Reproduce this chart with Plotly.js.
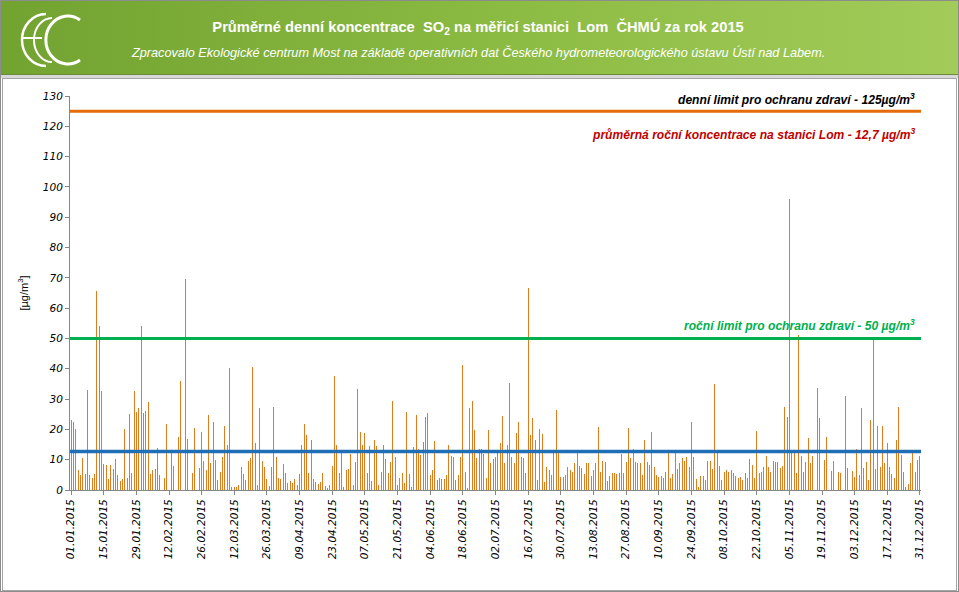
<!DOCTYPE html>
<html><head><meta charset="utf-8">
<script src="https://cdn.plot.ly/plotly-3.0.1.min.js"></script>
<style>
body{margin:0;background:#fff;}
#wrap{position:relative;width:959px;height:592px;overflow:hidden;background:#fff;}
#hdr{position:absolute;left:0;top:0;width:959px;height:74px;background:linear-gradient(to right,#72a230,#8dbc44 55%,#a2cb59);border-bottom:1px solid #6d8a3a;}
#band{position:absolute;left:0;top:75px;width:959px;height:3px;background:#d8d8d8;}
#panel{position:absolute;left:2px;top:78px;width:953px;height:511px;border:1px solid #a6a6a6;background:#fff;}
#frame{position:absolute;left:0;top:0;width:957px;height:590px;border:1px solid #8c8c8c;pointer-events:none;}
#logo{position:absolute;left:12px;top:8px;}
#chart{position:absolute;left:0;top:0;width:959px;height:592px;}
</style></head>
<body>
<div id="wrap">
  <div id="hdr"></div>
  <svg id="logo" width="76" height="64" viewBox="0 0 76 64">
    <path d="M34 6 A24 26 0 1 0 34 58" fill="none" stroke="#fff" stroke-width="2.5"/>
    <path d="M40 10 A18 22 0 1 0 40 54" fill="none" stroke="#fff" stroke-width="2"/>
    <path d="M10 30 L30 30" fill="none" stroke="#fff" stroke-width="2"/>
    <path d="M68 12 A22 24 0 1 0 68 52" fill="none" stroke="#fff" stroke-width="3"/>
  </svg>
  <div id="band"></div>
  <div id="panel"></div>
  <div id="chart"></div>
  <div id="frame"></div>
</div>
<script>
// ---- data ----
const startDate = '2015-01-01';
const so2Values = [
23,22.5,20,6.5,5,10.5,5.3,33,5,4,5.3,65.5,54,32.6,8.5,8.3,3.7,8.3,7,10.2,
5,3,3.5,20,4,25,5.5,32.7,25.8,27,54,25.3,26.2,29,5.3,6.6,7,14,5,9.7,
4,21.7,16.5,13.2,7.9,18.4,17.6,36,16.3,69.5,16.8,22.2,5.7,20.4,12.3,7.2,19,9.7,6.6,24.9,
9,22.3,10,3.3,6,11,21,15,40.4,1.1,1.1,0.9,1.6,7.7,5.3,3.3,9.7,10.5,40.7,15.6,
1.6,27,9.7,7.7,3.5,1.3,7.7,27.5,11,3.9,3.5,8.5,5.7,2.2,3,2.4,3.5,1.6,5.3,15,
21.7,18,5.5,16.5,3.5,2.8,2,2.8,5.7,1.3,0.5,1.6,7.9,37.6,14.9,5.5,12.1,0.9,6.6,6.9,
11.9,1.6,9.4,33.2,19,14.9,18.7,5.7,14.5,3.1,16.5,14.5,1.6,6,14.9,10.1,5.7,9.4,29.5,11,
1.6,4,5.7,2.2,25.6,5.3,1,14.3,24.8,13.4,11.6,16,24.2,25.3,5,6.6,16.3,3.3,3.9,3.5,
3.5,5,14.9,11.2,10.8,3.3,5,10.8,41.3,6,0.5,27,29.5,19.8,10.5,13.4,13.4,11.9,3.9,19.8,
8.8,10.1,11,12.1,15.6,24.4,8.8,14.9,35.4,10.8,8.8,18.9,22.6,10.8,10.5,5.5,66.6,18,23.7,16.5,
3.3,20,18.4,2.8,7.5,6.6,5,12.1,26.4,12.1,4.2,4.4,5,7.7,6.6,6,8.8,12.1,7.9,7.2,
5.3,8.8,9,4.6,6.6,9,20.9,6,9.7,9.4,3,4.6,5.5,5.5,5.3,5.7,11.9,5.7,9.4,20.4,
10.5,13.4,9.4,8.8,9,5,16.5,9.4,8.3,19,7.7,5,4.4,4.6,3.9,6,12.1,3.9,5.3,12.1,
6.8,9,10.5,9.7,10.8,7.7,22.6,11,3.5,0.9,4.6,4.6,3.3,9.7,9.7,6.8,35,13.2,7.9,3.3,
6,6.6,6,6.6,5.7,4.6,4,4.4,3.3,5.7,3.9,10.1,8.3,3.9,19.5,5.7,6,7.7,11.2,7.7,
6,9.7,9.4,9.4,7.2,7.9,27.5,24.2,96,13.2,12.1,5.7,51.2,11.2,6,9.4,17,8.8,11.2,12.7,
33.6,23.7,18,10,17.6,6,6.4,9.7,4.6,6,5.7,13.4,31.1,7.2,5.3,6.4,4.4,13.4,5,27,
7.2,9.4,3.3,23.1,49.7,7,21.1,7.7,21.1,8.8,15.6,7.7,5.3,3.9,16.5,27.5,11.6,6,1,2,
9,12.1,6,10,11.2
];
const dailyLimit = 125;
const annualLimit = 50;
const annualMean = 12.7;
const tickLabels = ['01.01.2015','15.01.2015','29.01.2015','12.02.2015','26.02.2015','12.03.2015','26.03.2015',
'09.04.2015','23.04.2015','07.05.2015','21.05.2015','04.06.2015','18.06.2015','02.07.2015','16.07.2015',
'30.07.2015','13.08.2015','27.08.2015','10.09.2015','24.09.2015','08.10.2015','22.10.2015','05.11.2015',
'19.11.2015','03.12.2015','17.12.2015','31.12.2015'];
const labelDaily = 'denní limit pro ochranu zdraví - 125µg/m<sup>3</sup>';
const labelMean = 'průměrná roční koncentrace na stanici Lom - 12,7 µg/m<sup>3</sup>';
const labelAnnual = 'roční limit pro ochranu zdraví - 50 µg/m<sup>3</sup>';
const titleText = 'Průměrné denní koncentrace  SO<sub>2</sub> na měřicí stanici  Lom  ČHMÚ za rok 2015';
const subtitleText = 'Zpracovalo Ekologické centrum Most na základě operativních dat Českého hydrometeorologického ústavu Ústí nad Labem.';

// ---- build ----
const DAY = 86400000;
const t0 = Date.parse(startDate + 'T00:00:00Z');
const iso = ms => new Date(ms).toISOString().slice(0,10);
const isoT = ms => new Date(ms).toISOString().slice(0,19).replace('T',' ');
const dates = so2Values.map((v,i) => iso(t0 + i*DAY));
const tickVals = tickLabels.map(s => { const p = s.split('.'); return p[2]+'-'+p[1]+'-'+p[0]; });
const tEnd = t0 + (so2Values.length-1)*DAY;

const F = 'Liberation Sans, Arial, sans-serif';
const trace = {
  type:'bar', x:dates, y:so2Values, width:0.42*DAY,
  marker:{color:'#E07B1E', line:{width:0}}, hoverinfo:'x+y'
};
const hline = (y,color,w) => ({type:'line', xref:'paper', x0:0, x1:1, yref:'y', y0:y, y1:y,
  line:{color:color, width:w}, layer:'above'});

const layout = {
  width:959, height:592,
  margin:{l:70, r:38, t:96, b:102},
  paper_bgcolor:'rgba(0,0,0,0)', plot_bgcolor:'#fff',
  showlegend:false, bargap:0,
  title:{text:titleText, xref:'container', yref:'container', x:0.4985, y:1-27/592, xanchor:'center', yanchor:'middle',
    font:{family:F, size:14.7, weight:'bold', color:'#fff'}},
  xaxis:{type:'date', range:[isoT(t0 - 0.45*DAY), isoT(tEnd + 0.45*DAY)],
    tickmode:'array', tickvals:tickVals, ticktext:tickLabels, tickangle:-90,
    tickfont:{family:'DejaVu Sans, Verdana, sans-serif', size:10.5, style:'italic', color:'#000'},
    ticks:'outside', ticklen:4, tickcolor:'#868686', showline:true, linecolor:'#868686', linewidth:1,
    showgrid:false, zeroline:false, fixedrange:true},
  yaxis:{range:[0,130], dtick:10, tick0:0, ticks:'outside', ticklen:4, tickcolor:'#868686',
    showline:true, linecolor:'#868686', linewidth:1, showgrid:false, zeroline:false,
    tickfont:{family:'DejaVu Sans, Verdana, sans-serif', size:10.5, style:'italic', color:'#000'},
    title:{text:'[µg/m<sup>3</sup>]', standoff:12, font:{family:F, size:11, color:'#000'}}, fixedrange:true},
  shapes:[ hline(dailyLimit,'#E46C0A',3), hline(annualLimit,'#00B050',3), hline(annualMean,'#1F6FB6',3.5) ],
  annotations:[
    {xref:'paper', yref:'paper', x:(478-70)/851, y:(490-52)/394, xanchor:'center', yanchor:'middle', showarrow:false,
     text:subtitleText, font:{family:F, size:12.7, style:'italic', color:'#fff'}},
    {xref:'paper', yref:'y', x:0.995, y:dailyLimit, xanchor:'right', yanchor:'bottom', yshift:2, showarrow:false,
     text:labelDaily, font:{family:F, size:12.1, weight:'bold', style:'italic', color:'#000'}},
    {xref:'paper', yref:'y', x:0.995, y:117.5, xanchor:'right', yanchor:'middle', showarrow:false,
     text:labelMean, font:{family:F, size:12.1, weight:'bold', style:'italic', color:'#C00000'}},
    {xref:'paper', yref:'y', x:0.995, y:annualLimit, xanchor:'right', yanchor:'bottom', yshift:3, showarrow:false,
     text:labelAnnual, font:{family:F, size:12.1, weight:'bold', style:'italic', color:'#00B050'}}
  ]
};
Plotly.newPlot('chart', [trace], layout, {displayModeBar:false, staticPlot:true});
</script>
</body></html>
